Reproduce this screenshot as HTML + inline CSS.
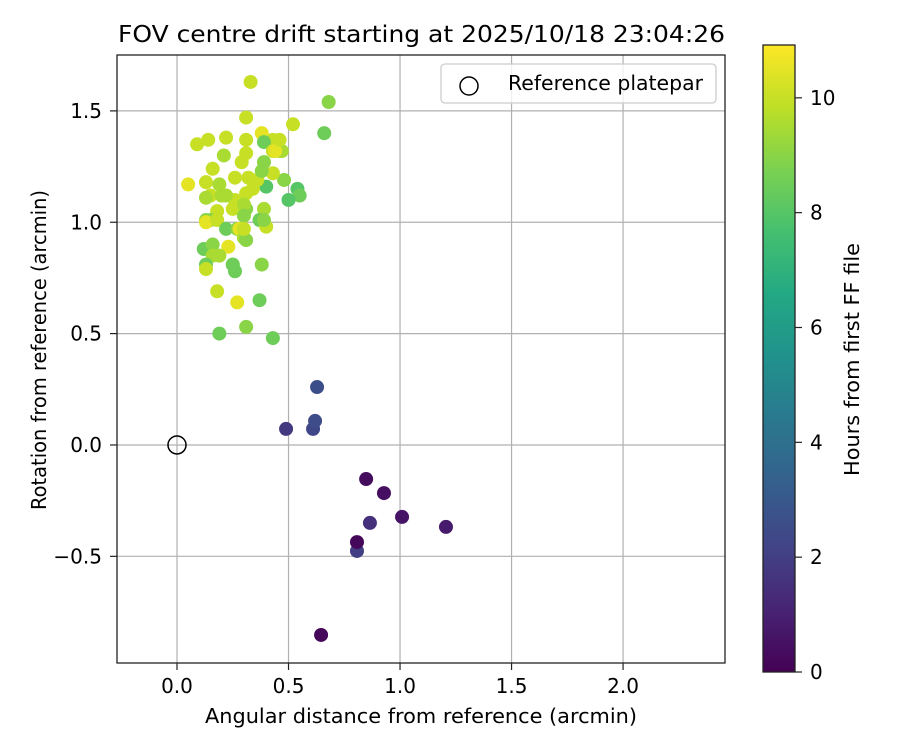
<!DOCTYPE html>
<html><head><meta charset="utf-8"><style>
body{margin:0;background:#fff;font-family:"DejaVu Sans","Liberation Sans",sans-serif;}
svg text{font-family:"DejaVu Sans","Liberation Sans",sans-serif;font-size:20px;}
</style></head><body>
<svg id="chart" width="900" height="750" xmlns="http://www.w3.org/2000/svg">
<defs>
<linearGradient id="vir" x1="0" y1="1" x2="0" y2="0">
<stop offset="0" stop-color="#440154"/><stop offset="0.1" stop-color="#482475"/><stop offset="0.2" stop-color="#414487"/><stop offset="0.3" stop-color="#355f8d"/><stop offset="0.4" stop-color="#2a788e"/><stop offset="0.5" stop-color="#21918c"/><stop offset="0.6" stop-color="#22a884"/><stop offset="0.7" stop-color="#44bf70"/><stop offset="0.8" stop-color="#7ad151"/><stop offset="0.9" stop-color="#bddf26"/><stop offset="1" stop-color="#fde725"/>
</linearGradient>
</defs>
<g id="grid"></g>
<g id="pts"></g>
<rect x="117" y="55" width="608" height="608" fill="none" stroke="#222" stroke-width="1.3"/>
<g id="ticks"></g>
<text x="118" y="42" textLength="607" lengthAdjust="spacingAndGlyphs" style="font-size:23px">FOV centre drift starting at 2025/10/18 23:04:26</text>
<text x="205" y="723" textLength="432" lengthAdjust="spacingAndGlyphs" style="font-size:20px">Angular distance from reference (arcmin)</text>
<text transform="translate(46,510) rotate(-90)" textLength="320" lengthAdjust="spacingAndGlyphs" style="font-size:20px">Rotation from reference (arcmin)</text>
<g>
<rect x="441" y="64" width="275" height="39" rx="4" fill="#fff" fill-opacity="0.8" stroke="#ccc" stroke-width="1.3"/>
<circle cx="469" cy="86" r="9" fill="none" stroke="#000" stroke-width="1.5"/>
<text x="508" y="90" textLength="195" lengthAdjust="spacingAndGlyphs" style="font-size:20px">Reference platepar</text>
</g>
<rect x="763" y="45" width="32" height="627" fill="url(#vir)" stroke="#222" stroke-width="1.3"/>
<g id="cbticks"></g>
<text transform="translate(859,476) rotate(-90)" textLength="233" lengthAdjust="spacingAndGlyphs" style="font-size:20px">Hours from first FF file</text>
</svg>
<script>
const xs=[0.646,0.807,0.865,0.807,0.848,0.928,1.009,1.206,0.489,0.61,0.619,0.628,
0.33,0.68,0.31,0.52,0.66,0.09,0.14,0.22,0.31,0.38,0.43,0.39,0.46,0.21,0.31,0.47,0.16,0.29,0.39,0.43,0.05,0.13,0.19,0.26,0.32,0.36,0.48,0.54,0.55,0.50,0.40,0.39,0.37,0.30,0.31,0.34,0.26,0.22,0.15,0.13,0.13,0.36,0.44,0.31,0.25,0.30,0.18,0.20,0.43,0.46,0.15,0.13,0.18,0.22,0.30,0.27,0.28,0.30,0.31,0.40,0.30,0.39,0.38,0.12,0.16,0.23,0.16,0.13,0.19,0.25,0.26,0.25,0.38,0.13,0.18,0.27,0.37,0.31,0.19,0.43];
const ys=[-0.853,-0.476,-0.35,-0.436,-0.153,-0.216,-0.323,-0.368,0.072,0.072,0.108,0.26,
1.63,1.54,1.47,1.44,1.40,1.35,1.37,1.38,1.37,1.40,1.37,1.36,1.32,1.30,1.31,1.32,1.24,1.27,1.27,1.32,1.17,1.18,1.17,1.20,1.20,1.19,1.19,1.15,1.12,1.10,1.16,1.06,1.01,1.03,1.13,1.15,1.10,1.12,1.12,1.11,1.01,1.19,1.32,1.06,1.06,1.08,1.05,1.12,1.22,1.37,1.01,1.00,1.01,0.97,1.03,0.97,0.97,0.93,0.92,0.98,0.97,1.01,1.23,0.88,0.90,0.89,0.85,0.81,0.85,0.81,0.78,0.81,0.81,0.79,0.69,0.64,0.65,0.53,0.50,0.48];
const hours=[0.2,2,1.5,0.2,0.3,0.4,0.6,0.8,1.8,2.3,2.5,2.6,
10,9,10,10,8.5,10,10,10,10,10.5,10,8.5,9.5,9.5,10,9.5,10,10,9,10,10.5,10,9.5,10,10,9.5,9,8,8.5,8,8,9.5,8.5,10,10,10,10,9.5,10,9.5,9,10,10.5,9,10,9.5,10,9.5,10,10,9,10.5,10,8.5,9,9,10.5,9.5,9,10,10,9,9,8.5,9,10.5,9.5,8.5,9.5,9,8.5,8.5,9,10,10,10.5,8.5,9,8.5,8.5];
const xTicks=[0,0.5,1,1.5,2];
const yTicks=[-0.5,0,0.5,1,1.5];
const cTicks=[0,2,4,6,8,10];
const X0=-0.269,X1=2.457,Y0=-0.979,Y1=1.751,C1=10.92;
const sx=v=>117+(v-X0)/(X1-X0)*608;
const sy=v=>663-(v-Y0)/(Y1-Y0)*608;
const sc=v=>672-v/C1*627;
const vir=["#440154","#482475","#414487","#355f8d","#2a788e","#21918c","#22a884","#44bf70","#7ad151","#bddf26","#fde725"];
function hex(h){return [1,3,5].map(i=>parseInt(h.substr(i,2),16));}
function cmap(t){t=Math.max(0,Math.min(1,t))*10;const i=Math.min(9,Math.floor(t)),f=t-i;const a=hex(vir[i]),b=hex(vir[i+1]);return 'rgb('+a.map((v,k)=>Math.round(v+(b[k]-v)*f)).join(',')+')';}
const NS='http://www.w3.org/2000/svg';
function mk(tag,attrs,parent){const e=document.createElementNS(NS,tag);for(const k in attrs)e.setAttribute(k,attrs[k]);parent.appendChild(e);return e;}
const grid=document.getElementById('grid'),ticks=document.getElementById('ticks'),pts=document.getElementById('pts'),cb=document.getElementById('cbticks');
xTicks.forEach(v=>{const x=sx(v);
const g=mk('line',{x1:x,x2:x,y1:55,y2:663,stroke:'#b0b0b0','stroke-width':1.2},grid);


mk('line',{x1:x,x2:x,y1:663,y2:670,stroke:'#222','stroke-width':1.2},ticks);
const t=mk('text',{x:x,y:693,'text-anchor':'middle',style:'font-size:20px'},ticks);t.textContent=v.toFixed(1);

});
yTicks.forEach(v=>{const y=sy(v);
const g=mk('line',{x1:117,x2:725,y1:y,y2:y,stroke:'#b0b0b0','stroke-width':1.2},grid);


mk('line',{x1:110,x2:117,y1:y,y2:y,stroke:'#222','stroke-width':1.2},ticks);
const t=mk('text',{x:102,y:y+7,'text-anchor':'end',style:'font-size:20px'},ticks);t.textContent=(v<0?'\u2212':'')+Math.abs(v).toFixed(1);

});
xs.forEach((v,i)=>{const c=mk('circle',{cx:sx(v),cy:sy(ys[i]),r:7,fill:cmap(hours[i]/C1)},pts);

});
const ref=mk('circle',{cx:sx(0),cy:sy(0),r:9,fill:'none',stroke:'#000','stroke-width':1.5},pts);


cTicks.forEach(v=>{const y=sc(v);
mk('line',{x1:795,x2:802,y1:y,y2:y,stroke:'#222','stroke-width':1.2},cb);
const t=mk('text',{x:810,y:y+7,style:'font-size:20px'},cb);t.textContent=v;

});
</script>
</body></html>
